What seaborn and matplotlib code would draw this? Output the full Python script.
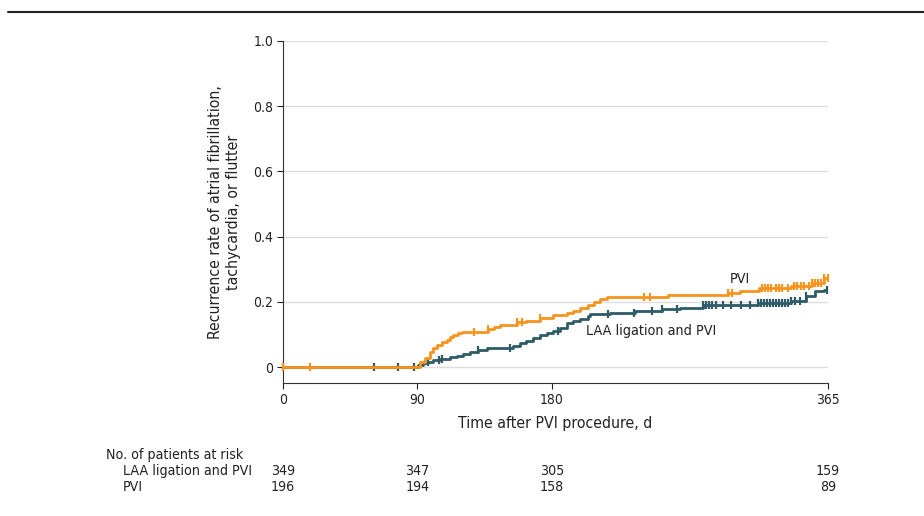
import numpy as np
import pandas as pd
import seaborn as sns
import matplotlib.pyplot as plt
import matplotlib.transforms as mtransforms
from matplotlib.lines import Line2D

# step points of the cumulative recurrence curves (day, rate)
pvi_days = [0, 91.7, 95, 98.4, 100.5, 103, 106.5, 110, 112, 114, 117, 120, 137, 141, 145,
            157, 163, 172, 181, 190, 194, 199, 204, 208, 212, 217, 258, 298, 306, 319,
            340, 354, 362, 365]
pvi_rate = [0, 0.016, 0.027, 0.047, 0.057, 0.067, 0.078, 0.083, 0.091, 0.098, 0.105, 0.108,
            0.116, 0.124, 0.129, 0.137, 0.142, 0.149, 0.160, 0.165, 0.173, 0.180, 0.190,
            0.200, 0.208, 0.215, 0.222, 0.228, 0.233, 0.243, 0.248, 0.258, 0.273, 0.273]
pvi_censor = [0, 18, 128, 137, 157, 160, 172, 242, 246, 298, 301, 321, 323, 325, 327, 330,
              332, 334, 338, 342, 344, 347, 349, 352, 354, 356, 358, 360, 362, 365]

laa_days = [0, 90.5, 94, 97, 100.5, 105, 112, 116.5, 120.5, 125, 130.5, 136.6, 154, 159,
            163, 167.5, 172, 177, 181, 185.5, 190, 194, 199, 204, 205.6, 219, 236, 254,
            266, 281, 318, 340, 350, 356, 362, 365]
laa_rate = [0, 0.006, 0.011, 0.016, 0.021, 0.025, 0.030, 0.034, 0.040, 0.047, 0.052, 0.057,
            0.064, 0.073, 0.081, 0.088, 0.098, 0.103, 0.111, 0.119, 0.136, 0.142, 0.146,
            0.156, 0.162, 0.167, 0.172, 0.177, 0.182, 0.189, 0.195, 0.202, 0.218, 0.233,
            0.237, 0.237]
laa_censor = [0, 61, 77, 88, 97, 104.5, 106.5, 130.6, 152, 184, 217.7, 235, 247, 254, 264,
              281, 283, 285, 287, 290, 295, 300, 307, 313, 318, 320, 322, 324, 326, 328,
              330, 332, 334, 336, 338, 340, 343, 346, 350, 364]

risk_days = [0, 90, 180, 365]
risk_laa = [349, 347, 305, 159]
risk_pvi = [196, 194, 158, 89]

orange = '#F7941D'
teal = '#2D5B67'
txt = '#222222'


def step_value(days, rate, t):
    idx = np.searchsorted(days, t, side='right') - 1
    return np.asarray(rate)[np.clip(idx, 0, len(rate) - 1)]


sns.set_style('ticks')
plt.rcParams['font.family'] = ['DejaVu Sans']
plt.rcParams['font.stretch'] = 'condensed'
plt.rcParams['font.size'] = 10
plt.rcParams['text.color'] = txt
plt.rcParams['axes.labelcolor'] = txt
plt.rcParams['xtick.color'] = txt
plt.rcParams['ytick.color'] = txt

fig = plt.figure(figsize=(9.24, 5.16), dpi=100)
ax = fig.add_axes([283 / 924, 1 - 383 / 516, 545 / 924, 342 / 516])

curves = pd.concat([
    pd.DataFrame({'day': pvi_days, 'rate': pvi_rate, 'group': 'PVI'}),
    pd.DataFrame({'day': laa_days, 'rate': laa_rate, 'group': 'LAA ligation and PVI'}),
])
censors = pd.concat([
    pd.DataFrame({'day': pvi_censor, 'rate': step_value(pvi_days, pvi_rate, pvi_censor),
                  'group': 'PVI'}),
    pd.DataFrame({'day': laa_censor, 'rate': step_value(laa_days, laa_rate, laa_censor),
                  'group': 'LAA ligation and PVI'}),
])
pal = {'PVI': orange, 'LAA ligation and PVI': teal}

for y in [0, 0.2, 0.4, 0.6, 0.8, 1.0]:
    ax.axhline(y, color='#dddddd', lw=1, zorder=0)

for grp, z in [('LAA ligation and PVI', 3), ('PVI', 4)]:
    d = curves[curves['group'] == grp]
    sns.lineplot(data=d, x='day', y='rate', color=pal[grp], lw=2, drawstyle='steps-post',
                 ax=ax, zorder=z, estimator=None, sort=False)
    c = censors[censors['group'] == grp]
    ax.plot(c['day'], c['rate'], ls='none', marker='|', ms=6, mew=1.6, color=pal[grp],
            zorder=z, clip_on=False)

ax.set_xlim(0, 365)
ax.set_ylim(-0.049, 1.0)
ax.set_xticks([0, 90, 180, 365])
ax.set_yticks([0, 0.2, 0.4, 0.6, 0.8, 1.0])
ax.set_yticklabels(['0', '0.2', '0.4', '0.6', '0.8', '1.0'])
ax.tick_params(axis='both', length=4, width=0.8, labelsize=10, pad=3)
sns.despine(ax=ax)
ax.spines['left'].set_bounds(-0.049, 1.0)
for s in ['left', 'bottom']:
    ax.spines[s].set_color('#333333')
    ax.spines[s].set_linewidth(0.8)

ax.set_xlabel('Time after PVI procedure, d', fontsize=11.3, labelpad=7)
ax.set_ylabel('Recurrence rate of atrial fibrillation,\ntachycardia, or flutter',
              fontsize=11.3, labelpad=9)

ax.text(306, 0.27, 'PVI', fontsize=10.3, ha='center', va='center')
ax.text(203, 0.11, 'LAA ligation and PVI', fontsize=10.3, ha='left', va='center')

# number at risk table
fig.text(106 / 924, 1 - 455 / 516, 'No. of patients at risk', fontsize=10.2, va='center')
fig.text(123 / 924, 1 - 471 / 516, 'LAA ligation and PVI', fontsize=10.2, va='center')
fig.text(123 / 924, 1 - 487 / 516, 'PVI', fontsize=10.2, va='center')
tr = mtransforms.blended_transform_factory(ax.transData, fig.transFigure)
for day, n1, n2 in zip(risk_days, risk_laa, risk_pvi):
    ax.text(day, 1 - 471 / 516, str(n1), transform=tr, ha='center', va='center', fontsize=10.2)
    ax.text(day, 1 - 487 / 516, str(n2), transform=tr, ha='center', va='center', fontsize=10.2)

# rule under the (cropped) figure title
fig.add_artist(Line2D([8 / 924, 1], [1 - 12 / 516, 1 - 12 / 516], color='#222222', lw=1.5,
                      transform=fig.transFigure))

fig.savefig('out.png', dpi=100)
